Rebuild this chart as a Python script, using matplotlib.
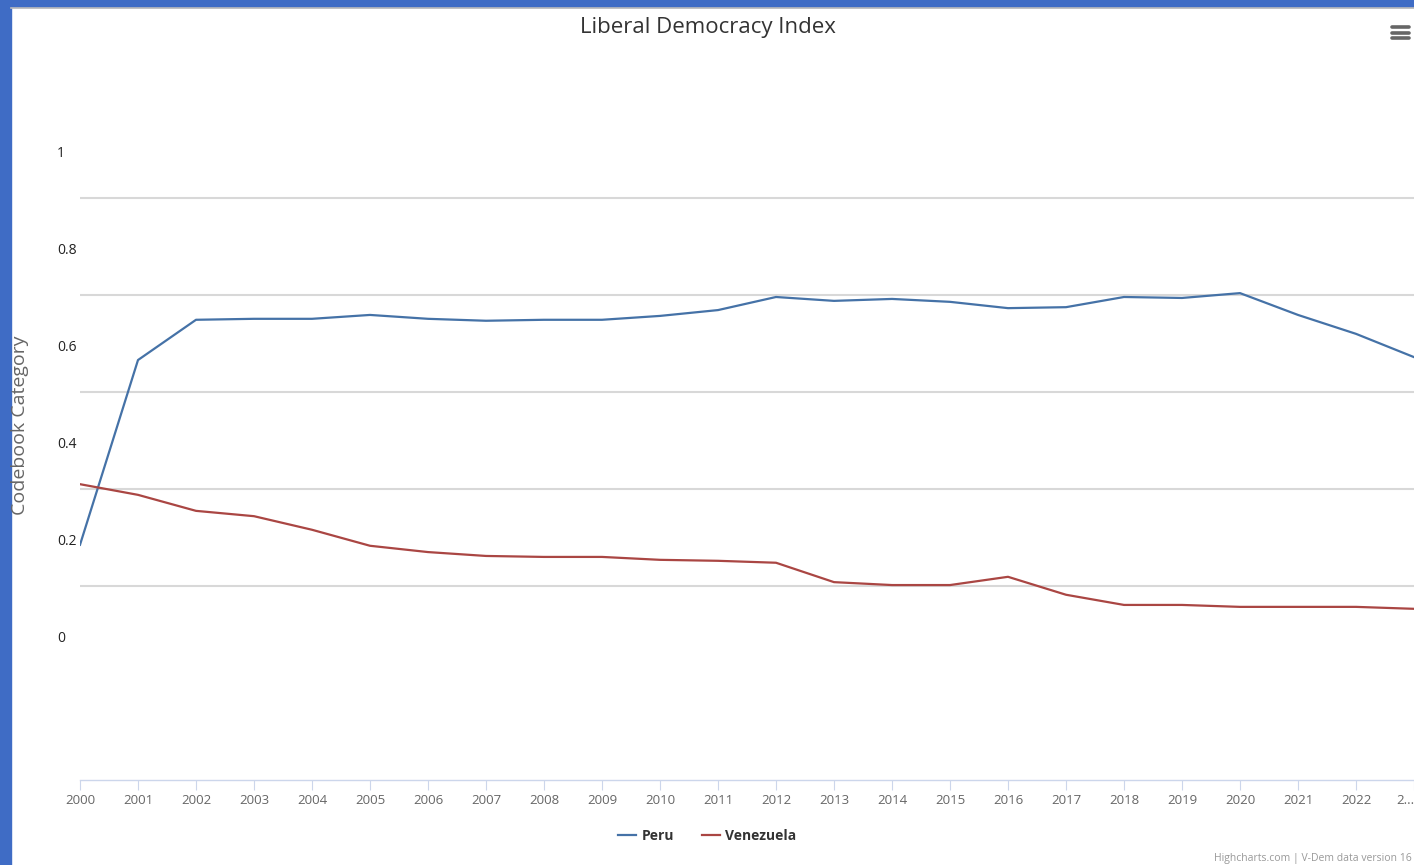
import matplotlib
matplotlib.use("Agg")
import matplotlib.pyplot as plt
from matplotlib.patches import Rectangle
from matplotlib.lines import Line2D

plt.rcParams['font.family'] = ['Open Sans', 'DejaVu Sans']

# --- DATOS ---
years = list(range(2000, 2024))
peru = [0.19, 0.571, 0.654, 0.656, 0.656, 0.664, 0.656, 0.652, 0.654, 0.654,
        0.662, 0.674, 0.701, 0.693, 0.697, 0.691, 0.678, 0.680, 0.701, 0.699,
        0.709, 0.664, 0.625, 0.577]
venezuela = [0.315, 0.293, 0.260, 0.249, 0.221, 0.188, 0.175, 0.167, 0.165, 0.165,
             0.159, 0.157, 0.153, 0.113, 0.107, 0.107, 0.124, 0.087, 0.066, 0.066,
             0.062, 0.062, 0.062, 0.058]
y_ticks = [0, 0.2, 0.4, 0.6, 0.8, 1]
grid_lines = [0.105, 0.305, 0.505, 0.705, 0.905]
x_labels = [str(y) for y in years[:-1]] + ["2..."]

W, H = 1414, 865
fig = plt.figure(figsize=(W / 100, H / 100), dpi=100)

# marco azul de la página
fig.patches.append(Rectangle((0, 0), 11 / W, 1, transform=fig.transFigure,
                             color='#3f6cc5', zorder=0))
fig.patches.append(Rectangle((0, 1 - 7 / H), 1, 7 / H, transform=fig.transFigure,
                             color='#3f6cc5', zorder=0))
fig.lines.append(Line2D([11 / W, 1], [1 - 8 / H, 1 - 8 / H], transform=fig.transFigure,
                        color='#bbbbbb', lw=1.2))

left, right = 80 / W, 1.0
bottom = 1 - 780 / H
top = 1 - 103.5 / H
ax = fig.add_axes([left, bottom, right - left, top - bottom])

for g in grid_lines:
    ax.axhline(g, color='#d8d8d8', lw=1.5, zorder=1)

ax.plot(years, peru, color='#4572A7', lw=1.6, label='Peru', zorder=3)
ax.plot(years, venezuela, color='#AA4643', lw=1.6, label='Venezuela', zorder=3)

ax.set_xlim(2000, 2023)
ax.set_ylim(-0.295, 1.1)

for s in ['top', 'right', 'left']:
    ax.spines[s].set_visible(False)
ax.spines['bottom'].set_color('#ccd6eb')
ax.spines['bottom'].set_linewidth(1.0)

ax.set_xticks(years)
ax.set_xticklabels(x_labels, fontsize=9.5, color='#666666')
ax.tick_params(axis='x', length=7, color='#ccd6eb', pad=3)
last = ax.get_xticklabels()[-1]
last.set_horizontalalignment('right')

ax.set_yticks(y_ticks)
ax.set_yticklabels(['0', '0.2', '0.4', '0.6', '0.8', '1'], fontsize=10, color='#222222')
ax.tick_params(axis='y', length=0, pad=16.5)
for lbl in ax.get_yticklabels():
    lbl.set_horizontalalignment('left')

fig.text(20 / W, 1 - 425 / H, 'Codebook Category', rotation=90, ha='center', va='center',
         fontsize=14, color='#666666')
fig.text(708 / W, 1 - 28 / H, 'Liberal Democracy Index', ha='center', va='center',
         fontsize=16, color='#333333')

leg = fig.legend(loc='center', bbox_to_anchor=(707 / W, 1 - 836 / H), ncol=2, frameon=False,
                 handlelength=1.3, handletextpad=0.4, columnspacing=2.0,
                 prop={'size': 10, 'weight': 'bold'})
for t in leg.get_texts():
    t.set_color('#333333')

fig.text(1412 / W, 1 - 858 / H, 'Highcharts.com | V-Dem data version 16', ha='right',
         va='center', fontsize=7.5, color='#999999')

# icono de menú
for yy in [27, 32.5, 38]:
    fig.lines.append(Line2D([1392 / W, 1409 / W], [1 - yy / H, 1 - yy / H],
                            transform=fig.transFigure, color='#666666', lw=2.6,
                            solid_capstyle='round'))

fig.savefig('out.png', dpi=100)
